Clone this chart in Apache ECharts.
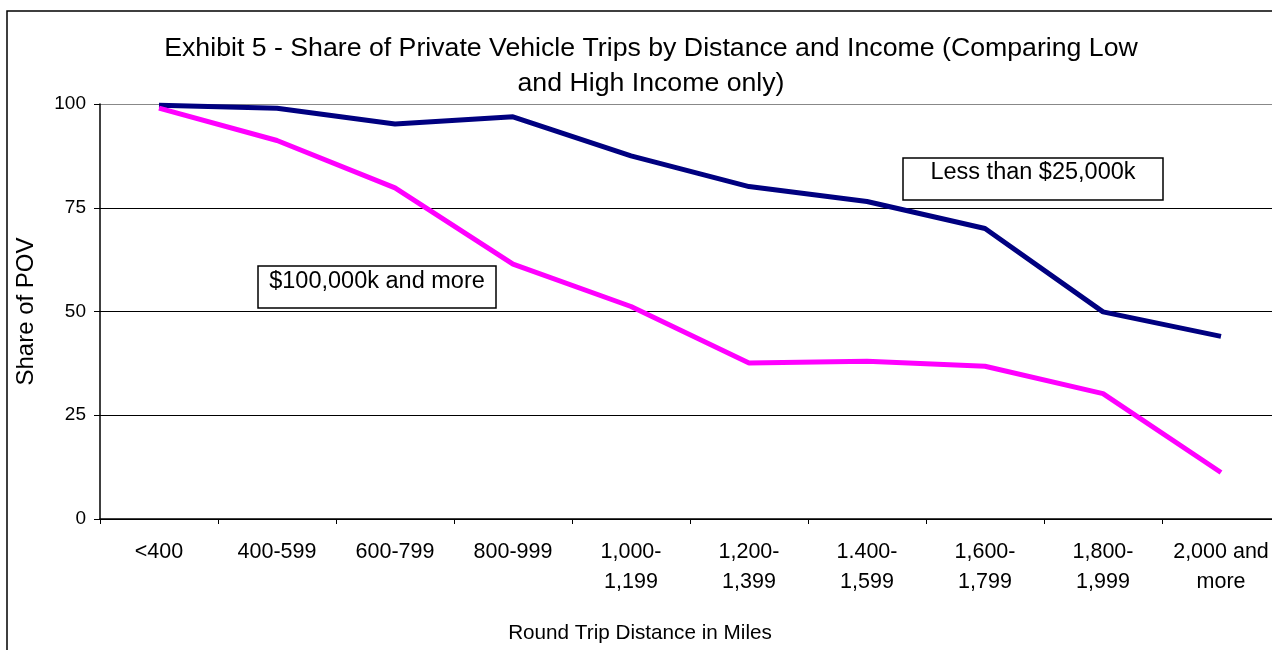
<!DOCTYPE html>
<html>
<head>
<meta charset="utf-8">
<script src="https://cdn.jsdelivr.net/npm/echarts@6/dist/echarts.min.js"></script>
<style>
html,body{margin:0;padding:0;background:#fff;overflow:hidden;width:1272px;height:650px;}
#chart{width:1300px;height:650px;}
</style>
</head>
<body>
<div id="chart"></div>
<script>
const categories = ['<400','400-599','600-799','800-999','1,000-\n1,199','1,200-\n1,399','1.400-\n1,599','1,600-\n1,799','1,800-\n1,999','2,000 and\nmore'];
const lowIncome = [99.7, 99.0, 95.2, 96.9, 87.5, 80.1, 76.5, 70.0, 49.9, 44.0];
const highIncome = [99.0, 91.2, 79.8, 61.4, 51.2, 37.6, 38.0, 36.8, 30.2, 11.2];
const yTicks = [0, 25, 50, 75, 100];
const titleText = 'Exhibit 5 - Share of Private Vehicle Trips by Distance and Income (Comparing Low\nand High Income only)';
const xAxisTitle = 'Round Trip Distance in Miles';
const yAxisTitle = 'Share of POV';
const lowLabel = 'Less than $25,000k';
const highLabel = '$100,000k and more';

const FONT = '"Liberation Sans", Arial, sans-serif';
const chart = echarts.init(document.getElementById('chart'), null, {renderer:'canvas'});
chart.setOption({
  backgroundColor:'#fff',
  animation:false,
  title:{
    text:titleText,
    left:646, top:26, textAlign:'center',
    textStyle:{fontFamily:FONT, fontSize:26.7, fontWeight:'normal', color:'#000', lineHeight:35}
  },
  grid:{left:100, right:20, top:104, bottom:131, containLabel:false},
  xAxis:{
    type:'category', data:categories, boundaryGap:true,
    axisLine:{lineStyle:{color:'#000', width:1.5}},
    axisTick:{show:true, length:5, lineStyle:{color:'#000'}},
    axisLabel:{fontFamily:FONT, fontSize:21.5, color:'#000', margin:18, lineHeight:30, interval:0},
    splitLine:{show:false}
  },
  yAxis:{
    type:'value', min:0, max:100, interval:25,
    name:yAxisTitle, nameLocation:'middle', nameGap:62, nameRotate:90,
    nameTextStyle:{fontFamily:FONT, fontSize:24, color:'#000'},
    axisLine:{show:true, lineStyle:{color:'#000', width:1.5}},
    axisTick:{show:true, length:6, lineStyle:{color:'#000'}},
    axisLabel:{fontFamily:FONT, fontSize:19, color:'#000', margin:14,
      formatter:v=>yTicks.includes(v)?String(v):''},
    splitLine:{show:true, lineStyle:{color:['#000','#000','#000','#000','#888'], width:1.2}}
  },
  series:[
    {name:lowLabel, type:'line', data:lowIncome, symbol:'none', lineStyle:{color:'#000080', width:5}, itemStyle:{color:'#000080'}, z:3},
    {name:highLabel, type:'line', data:highIncome, symbol:'none', lineStyle:{color:'#FF00FF', width:5}, itemStyle:{color:'#FF00FF'}, z:4}
  ],
  graphic:[
    {type:'rect', shape:{x:7, y:11, width:1320, height:700}, style:{fill:null, stroke:'#000', lineWidth:1.5}, silent:true, z:0},
    {type:'text', x:640, y:633, style:{text:xAxisTitle, fontFamily:FONT, fontSize:20.7, fill:'#000', align:'center', verticalAlign:'middle'}, z:11},
    {type:'rect', shape:{x:903, y:158, width:260, height:42}, style:{fill:'#fff', stroke:'#000', lineWidth:1.5}, z:10},
    {type:'text', x:1033, y:173, style:{text:lowLabel, fontFamily:FONT, fontSize:23.5, fill:'#000', align:'center', verticalAlign:'middle'}, z:11},
    {type:'rect', shape:{x:258, y:266, width:238, height:42}, style:{fill:'#fff', stroke:'#000', lineWidth:1.5}, z:10},
    {type:'text', x:377, y:282, style:{text:highLabel, fontFamily:FONT, fontSize:23.5, fill:'#000', align:'center', verticalAlign:'middle'}, z:11}
  ]
});
</script>
</body>
</html>
